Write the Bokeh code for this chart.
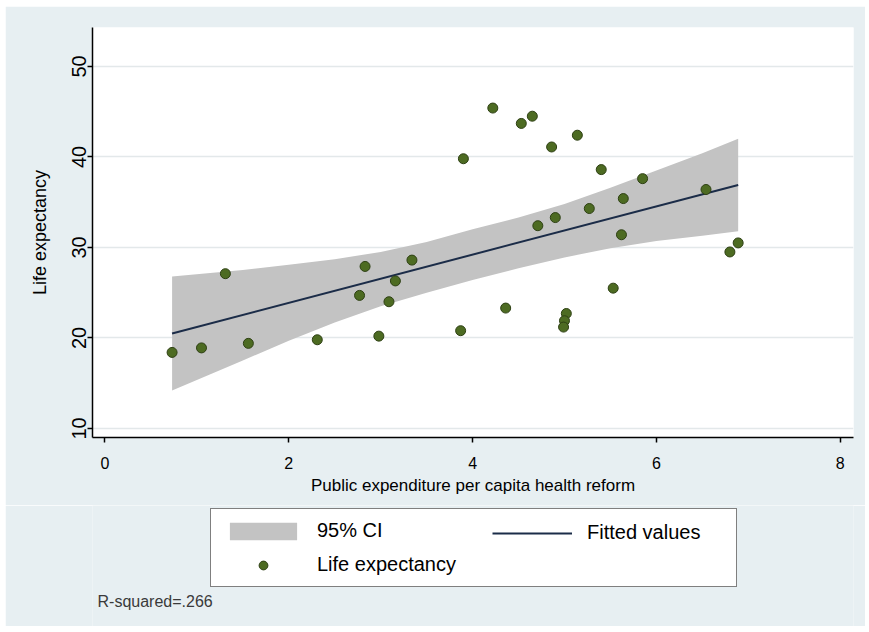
from bokeh.plotting import figure
from bokeh.layouts import column
from bokeh.models import Range1d, FixedTicker, Legend, LegendItem, Label
from bokeh.embed import file_html
from bokeh.resources import INLINE

# ---- data ----
exp_x = [0.73, 1.05, 1.31, 1.56, 2.31, 2.83, 2.77, 3.16, 3.09, 3.34, 2.98, 3.87, 3.90, 4.22,
         4.53, 4.65, 5.14, 4.86, 5.40, 5.85, 6.54, 5.64, 5.27, 4.90, 4.71, 5.62, 6.89, 6.80,
         5.53, 4.36, 5.02, 5.00, 4.99]
life_y = [18.4, 18.9, 27.1, 19.4, 19.8, 27.9, 24.7, 26.3, 24.0, 28.6, 20.2, 20.8, 39.8, 45.4,
          43.7, 44.5, 42.4, 41.1, 38.6, 37.6, 36.4, 35.4, 34.3, 33.3, 32.4, 31.4, 30.5, 29.5,
          25.5, 23.3, 22.7, 21.9, 21.2]

ci_x = [0.73, 1.5, 2.0, 2.5, 3.0, 3.5, 4.0, 4.5, 5.0, 5.5, 6.0, 6.5, 6.89]
ci_hi = [26.8, 27.5, 28.1, 28.7, 29.5, 30.6, 32.0, 33.3, 34.8, 36.6, 38.5, 40.4, 42.0]
ci_lo = [14.2, 17.5, 19.7, 21.7, 23.5, 25.0, 26.4, 27.7, 28.9, 29.9, 30.7, 31.3, 31.8]

fit_x = [0.73, 6.89]
fit_y = [20.5, 36.9]

x_ticks = [0, 2, 4, 6, 8]
y_ticks = [10, 20, 30, 40, 50]

FONT = "Liberation Sans"
BG = "#e7eff2"
CI_COLOR = "#c3c3c3"
FIT_COLOR = "#1b2c48"
PT_FILL = "#4d6b22"
PT_LINE = "#2e4014"

# ---------------- main plot ----------------
p = figure(width=860, height=499, output_backend="svg", toolbar_location=None,
           margin=(6, 4, 0, 5),
           x_range=Range1d(-0.136, 8.145), y_range=Range1d(9.0, 54.3),
           min_border_left=87, min_border_top=21, min_border_right=12, min_border_bottom=68)
p.background_fill_color = "white"
p.border_fill_color = BG
p.outline_line_color = None

p.varea(x=ci_x, y1=ci_lo, y2=ci_hi, fill_color=CI_COLOR, fill_alpha=1.0)
p.line(x=fit_x, y=fit_y, line_color=FIT_COLOR, line_width=2)
p.scatter(x=exp_x, y=life_y, size=10, marker="circle",
          fill_color=PT_FILL, line_color=PT_LINE, line_width=1)

p.xaxis.ticker = FixedTicker(ticks=x_ticks)
p.yaxis.ticker = FixedTicker(ticks=y_ticks)
for ax in (p.xaxis[0], p.yaxis[0]):
    ax.axis_line_color = "black"
    ax.axis_line_width = 1.5
    ax.major_tick_line_color = "black"
    ax.major_tick_line_width = 1.5
    ax.major_tick_out = 5
    ax.major_tick_in = 0
    ax.minor_tick_line_color = None
    ax.major_label_text_font = FONT
    ax.major_label_text_color = "black"
    ax.axis_label_text_font = FONT
    ax.axis_label_text_font_style = "normal"
    ax.axis_label_text_color = "black"

p.xaxis.axis_label = "Public expenditure per capita health reform"
p.xaxis.axis_label_text_font_size = "17px"
p.xaxis.major_label_text_font_size = "16px"
p.xaxis.major_label_standoff = 14
p.xaxis.axis_label_standoff = 4

p.yaxis.axis_label = "Life expectancy"
p.yaxis.axis_label_text_font_size = "18px"
p.yaxis.major_label_text_font_size = "20px"
p.yaxis.major_label_orientation = "vertical"
p.yaxis.major_label_standoff = 1
p.yaxis.axis_label_standoff = 20

p.xgrid.grid_line_color = None
p.ygrid.ticker = FixedTicker(ticks=y_ticks)
p.ygrid.grid_line_color = "#e3e8ea"
p.ygrid.grid_line_width = 1.5

# ---------------- legend / note strip ----------------
q = figure(width=860, height=121, output_backend="svg", toolbar_location=None,
           margin=(0, 4, 6, 5), x_axis_type=None, y_axis_type=None,
           x_range=Range1d(-0.136, 8.145), y_range=Range1d(100, 200),
           min_border_left=87, min_border_right=12, min_border_top=0, min_border_bottom=0)
q.background_fill_color = BG
q.background_fill_alpha = 1.0
q.border_fill_color = BG
q.outline_line_color = None
q.grid.grid_line_color = None

# legend-source renderers (outside the visible range of this strip)
band = q.varea(x=ci_x, y1=ci_lo, y2=ci_hi, fill_color=CI_COLOR, fill_alpha=1.0)
fit = q.line(x=fit_x, y=fit_y, line_color=FIT_COLOR, line_width=2)
pts = q.scatter(x=exp_x, y=life_y, size=10, marker="circle",
                fill_color=PT_FILL, line_color=PT_LINE, line_width=1)

legA = Legend(items=[LegendItem(label="95% CI", renderers=[band]),
                     LegendItem(label="Life expectancy", renderers=[pts])],
              location=(118, 39), orientation="vertical",
              glyph_width=84, glyph_height=22, label_standoff=12, label_width=409,
              spacing=11, padding=10, margin=0,
              label_text_font=FONT, label_text_font_size="20px", label_text_color="black",
              border_line_color="black", border_line_width=1.5,
              background_fill_color="white", background_fill_alpha=1.0)
legB = Legend(items=[LegendItem(label="Fitted values", renderers=[fit])],
              location=(400, 82), orientation="vertical",
              glyph_width=80, glyph_height=22, label_standoff=15,
              spacing=10, padding=10, margin=0,
              label_text_font=FONT, label_text_font_size="20px", label_text_color="black",
              border_line_color=None, background_fill_alpha=0.0)
q.add_layout(legA, "center")
q.add_layout(legB, "center")

note = Label(x=5, y=25, x_units="screen", y_units="screen", text="R-squared=.266",
             text_font=FONT, text_font_size="16px", text_color="#3a3a3a",
             text_baseline="middle", text_align="left")
q.add_layout(note)

layout = column(p, q, spacing=0)
open("out.html", "w").write(file_html(layout, INLINE))
